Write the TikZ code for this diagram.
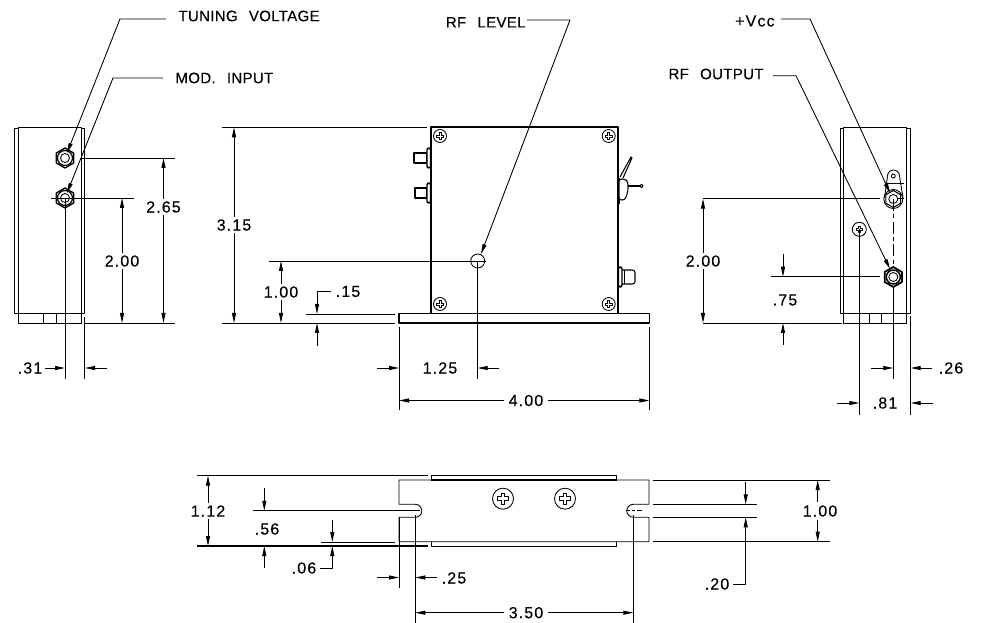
\documentclass[tikz,border=0pt]{standalone}
\usepackage{fontspec}
\usetikzlibrary{arrows.meta}
\newfontfamily\capfont[LetterSpace=2,WordSpace=2.5,FakeBold=0.25]{Liberation Sans}
\newfontfamily\digfont[LetterSpace=7,FakeBold=0.25]{Liberation Sans}
\tikzset{
	>={Triangle[length=7.5pt,width=3pt]},
	thinline/.style={line width=0.65pt},
	body/.style={line width=1.4pt},
	centerline/.style={line width=0.7pt,dash pattern=on 9pt off 2.5pt on 3pt off 2.5pt},
	dimtext/.style={font=\fontsize{12pt}{13pt}\digfont,inner sep=1.5pt},
	captext/.style={font=\fontsize{11.3pt}{12pt}\capfont,inner sep=9pt},
}
\begin{document}
\begin{tikzpicture}[x=0.75pt,y=-0.75pt,thinline,line join=round]
\useasboundingbox (0,0) rectangle (981,623);

% left view
\draw (14,128) rectangle (18.5,313);
\draw (81,128) rectangle (84.5,313);
\draw (18.5,127) rectangle (81,313);
\draw (18.5,313) rectangle (81,323);
\draw (43.5,313) -- (43.5,323);
\draw (56,313) -- (56,323);
\foreach \x/\y in {65/158, 65/198} {
	\draw[line width=1pt,shift={(\x,\y)}] (30:10) -- (90:10) -- (150:10) -- (210:10) -- (270:10) -- (330:10) -- cycle;
	\draw[line width=0.9pt] (\x,\y) circle[radius=7.5];
	\draw (\x,\y) circle[radius=4.5];
}
\draw (82,158) -- (175,158);
\draw (51,198) -- (134,198);
\draw (85,323) -- (175,323);
\draw (65,198) -- (65,379);
\draw (84.5,317) -- (84.5,379);

\node[dimtext] (dimA) at (163.5,207) {2.65};
\coordinate (dimAtop) at (163.5,158);
\coordinate (dimAbot) at (163.5,323);
\draw[->] (dimA) -- (dimAtop);
\draw[->] (dimA) -- (dimAbot);
\node[dimtext] (dimB) at (122,261) {2.00};
\coordinate (dimBtop) at (122,198);
\coordinate (dimBbot) at (122,323);
\draw[->] (dimB) -- (dimBtop);
\draw[->] (dimB) -- (dimBbot);
\node[dimtext] (dimC) at (30,368) {.31};
\coordinate (dimCa) at (65,368);
\coordinate (dimCb) at (85,368);
\coordinate (dimCc) at (107,368);
\draw[->] (dimC) -- (dimCa);
\draw[->] (dimCc) -- (dimCb);

\node[captext,anchor=west] (lblTuning) at (166,16) {TUNING VOLTAGE};
\coordinate (tuningBend) at (120,19);
\coordinate (tuningTip) at (67,153);
\draw[->] (lblTuning.west |- tuningBend) -- (tuningBend) -- (tuningTip);
\node[captext,anchor=west] (lblMod) at (163,78) {MOD. INPUT};
\coordinate (modBend) at (113,78);
\coordinate (modTip) at (67,193);
\draw[->] (lblMod.west) -- (modBend) -- (modTip);

% front view
\draw[body] (430.7,313.5) -- (430.7,127.3) -- (617.7,127.3) -- (617.7,313.5);
\draw (430.7,313.7) -- (617.7,313.7);
\draw[line width=0.9pt] (399,313.7) rectangle (649.3,323);
\foreach \x/\y in {440/136, 608.7/136, 440/304, 608.7/304} {
	\draw (\x,\y) circle[radius=6.5];
	\draw[shift={(\x,\y)},scale=0.42] (-2.5,-8) -- (2.5,-8) -- (2.5,-2.5) -- (8,-2.5) -- (8,2.5) -- (2.5,2.5) -- (2.5,8) -- (-2.5,8) -- (-2.5,2.5) -- (-8,2.5) -- (-8,-2.5) -- (-2.5,-2.5) -- cycle;
}
\foreach \x/\y in {414/158, 415/193} {
	\draw[line width=0.8pt] (\x,\y-5) rectangle (427,\y+5);
	\draw[line width=1.1pt,fill=white,rounded corners=1.5pt] (427,\y-10) rectangle (430.7,\y+10);
}
% toggle switch
\draw[line width=1.1pt] (619,178) -- (619,204);
\draw[fill=white,line width=0.8pt,rounded corners=2pt] (619,179) -- (625,179) -- (628,182) -- (628,191) -- (625,200) -- (619,200) -- cycle;
\draw[line width=0.8pt] (620,177) -- (631,157) -- (632,158) -- (623,178);
\draw[line width=0.8pt] (628,186) -- (640,186);
\draw[line width=0.8pt] (641.5,186) circle[radius=1.6];
% output connector
\draw[line width=1.1pt,rounded corners=1.5pt] (618.5,267) rectangle (622,287);
\draw[line width=0.8pt,rounded corners=2pt] (622,270) -- (635,270) -- (635,284) -- (622,284);
\draw (624.5,270) -- (624.5,284);

\draw (477.7,261) circle[radius=7];
\draw (222,127.3) -- (427,127.3);
\draw (222,323) -- (395,323);
\draw (269,261) -- (486,261);
\draw (306,314) -- (395,314);
\draw (477.7,261) -- (477.7,379);
\draw (399,327) -- (399,410);
\draw (649.3,327) -- (649.3,410);

\node[dimtext] (dimD) at (234,225) {3.15};
\coordinate (dimDtop) at (234,127.3);
\coordinate (dimDbot) at (234,323);
\draw[->] (dimD) -- (dimDtop);
\draw[->] (dimD) -- (dimDbot);
\node[dimtext] (dimE) at (281,292) {1.00};
\coordinate (dimEtop) at (281,261);
\coordinate (dimEbot) at (281,323);
\draw[->] (dimE) -- (dimEtop);
\draw[->] (dimE) -- (dimEbot);
\node[dimtext,inner sep=3pt] (dimF) at (348,291.5) {.15};
\coordinate (dimFbend) at (317,291.5);
\coordinate (dimFtip) at (317,314);
\coordinate (dimFlow) at (317,346);
\coordinate (dimFup) at (317,323);
\draw[->] (dimF) -- (dimFbend) -- (dimFtip);
\draw[->] (dimFlow) -- (dimFup);
\node[dimtext] (dimG) at (440,368) {1.25};
\coordinate (dimGa) at (377,368);
\coordinate (dimGb) at (399,368);
\coordinate (dimGc) at (499,368);
\coordinate (dimGd) at (477.7,368);
\draw[->] (dimGa) -- (dimGb);
\draw[->] (dimGc) -- (dimGd);
\node[dimtext,inner sep=3pt] (dimH) at (526,400.5) {4.00};
\coordinate (dimHa) at (399,400.5);
\coordinate (dimHb) at (649.3,400.5);
\draw[->] (dimH) -- (dimHa);
\draw[->] (dimH) -- (dimHb);

\node[captext,anchor=east,inner sep=0.75pt] (lblLevel) at (527,22.3) {RF LEVEL};
\coordinate (levelBend) at (570,20);
\coordinate (levelTip) at (481,254);
\draw[->] (lblLevel.east |- levelBend) -- (levelBend) -- (levelTip);

% right view
\draw (840.3,128) rectangle (843.7,313);
\draw (906.7,128) rectangle (910.7,313);
\draw (843.7,127) rectangle (906.7,313);
\draw (843.7,313) rectangle (906.7,323);
\draw (869,313) -- (869,323);
\draw (881,313) -- (881,323);
\draw (893.3,176) circle[radius=2];
\draw (887.5,176) arc[start angle=180,end angle=360,radius=6] -- (903,198) (887.5,176) -- (884.5,198);
\draw (887,183) -- (904,183);
\draw (893.3,199) circle[radius=9.5];
\draw[line width=0.8pt,shift={(893.3,199)}] (30:8.5) -- (90:8.5) -- (150:8.5) -- (210:8.5) -- (270:8.5) -- (330:8.5) -- cycle;
\draw (893.3,199) circle[radius=4.5];
\draw[line width=1.3pt,shift={(893.3,277)}] (30:10) -- (90:10) -- (150:10) -- (210:10) -- (270:10) -- (330:10) -- cycle;
\draw[line width=1.1pt] (893.3,277) circle[radius=7];
\draw (893.3,277) circle[radius=4.5];
\draw (859.3,229.3) circle[radius=7];
\draw[shift={(859.3,229.3)},scale=0.42] (-2.5,-8) -- (2.5,-8) -- (2.5,-2.5) -- (8,-2.5) -- (8,2.5) -- (2.5,2.5) -- (2.5,8) -- (-2.5,8) -- (-2.5,2.5) -- (-8,2.5) -- (-8,-2.5) -- (-2.5,-2.5) -- cycle;
\draw[centerline] (893.3,199) -- (893.3,266);
\draw (893.3,287) -- (893.3,379);
\draw (859.3,229.3) -- (859.3,415);
\draw (910.7,316) -- (910.7,415);
\draw (703,198.7) -- (880,198.7);
\draw (898,198.7) -- (904,198.7);
\draw (703,323) -- (842,323);
\draw (771,276.7) -- (880,276.7);

\node[dimtext] (dimJ) at (703,261) {2.00};
\coordinate (dimJtop) at (703,198.7);
\coordinate (dimJbot) at (703,323);
\draw[->] (dimJ) -- (dimJtop);
\draw[->] (dimJ) -- (dimJbot);
\node[dimtext] (dimK) at (785,300) {.75};
\coordinate (dimKa) at (783,254);
\coordinate (dimKb) at (783,276.7);
\coordinate (dimKc) at (783,345);
\coordinate (dimKd) at (783,323);
\draw[->] (dimKa) -- (dimKb);
\draw[->] (dimKc) -- (dimKd);
\node[dimtext] (dimL) at (951,368) {.26};
\coordinate (dimLa) at (871,368);
\coordinate (dimLb) at (893.3,368);
\coordinate (dimLc) at (932,368);
\coordinate (dimLd) at (910.7,368);
\draw[->] (dimLa) -- (dimLb);
\draw[->] (dimLc) -- (dimLd);
\node[dimtext] (dimM) at (885,403) {.81};
\coordinate (dimMa) at (837,403);
\coordinate (dimMb) at (859.3,403);
\coordinate (dimMc) at (933,403);
\coordinate (dimMd) at (910.7,403);
\draw[->] (dimMa) -- (dimMb);
\draw[->] (dimMc) -- (dimMd);

\node[dimtext,anchor=east,inner sep=4.5pt] (lblVcc) at (781,21) {+Vcc};
\coordinate (vccBend) at (810,19);
\coordinate (vccTip) at (890,193);
\draw[->] (lblVcc.east |- vccBend) -- (vccBend) -- (vccTip);
\node[captext,anchor=east,inner sep=6.75pt] (lblOutput) at (773,74) {RF OUTPUT};
\coordinate (outputBend) at (796,75.7);
\coordinate (outputTip) at (890,269);
\draw[->] (lblOutput.east |- outputBend) -- (outputBend) -- (outputTip);

% bottom view
\draw (399,480) -- (399,504.3) -- (415.3,504.3) arc[start angle=-90,end angle=90,radius=6.5] -- (399,517.3) -- (399,541.7) -- (649,541.7) -- (649,517.3) -- (633.3,517.3) arc[start angle=90,end angle=270,radius=6.5] -- (649,504.3) -- (649,480) -- cycle;
\draw (431,480) -- (431,475.7) -- (616.7,475.7) -- (616.7,480);
\draw (431,541.7) -- (431,546) -- (616.7,546) -- (616.7,541.7);
\draw[line width=1.1pt] (431,480) -- (616.7,480);
\foreach \x in {503, 565} {
	\draw (\x,498.7) circle[radius=10.5];
	\draw[shift={(\x,498.7)},scale=0.72] (-2.5,-8) -- (2.5,-8) -- (2.5,-2.5) -- (8,-2.5) -- (8,2.5) -- (2.5,2.5) -- (2.5,8) -- (-2.5,8) -- (-2.5,2.5) -- (-8,2.5) -- (-8,-2.5) -- (-2.5,-2.5) -- cycle;
}
\draw (197,475.7) -- (428,475.7);
\draw[line width=0.9pt] (197,546) -- (428,546);
\draw (253,510.8) -- (420,510.8);
\draw (321,542) -- (395,542);
\draw (399,517.3) -- (399,588);
\draw (415.3,515) -- (415.3,623);
\draw (633.3,515) -- (633.3,623);
\draw (626,510.8) -- (630,510.8) (632,510.8) -- (635,510.8) (637,510.8) -- (642,510.8);
\draw (653,480) -- (830,480);
\draw (653,504.3) -- (757,504.3);
\draw (653,517.3) -- (757,517.3);
\draw (653,541.7) -- (830,541.7);

\node[dimtext] (dimN) at (208,511) {1.12};
\coordinate (dimNtop) at (208,475.7);
\coordinate (dimNbot) at (208,546);
\draw[->] (dimN) -- (dimNtop);
\draw[->] (dimN) -- (dimNbot);
\node[dimtext] (dimO) at (267,529) {.56};
\coordinate (dimOa) at (264.3,488);
\coordinate (dimOb) at (264.3,510.8);
\coordinate (dimOc) at (264.3,568);
\coordinate (dimOd) at (264.3,546);
\draw[->] (dimOa) -- (dimOb);
\draw[->] (dimOc) -- (dimOd);
\node[dimtext,inner sep=2.5pt] (dimP) at (304,568) {.06};
\coordinate (dimPbend) at (332.3,568);
\coordinate (dimPtip) at (332.3,546);
\coordinate (dimPa) at (332.3,520);
\coordinate (dimPb) at (332.3,542);
\draw[->] (dimP) -- (dimPbend) -- (dimPtip);
\draw[->] (dimPa) -- (dimPb);
\node[dimtext] (dimQ) at (454,578) {.25};
\coordinate (dimQa) at (377,577.5);
\coordinate (dimQb) at (399,577.5);
\coordinate (dimQc) at (437,577.5);
\coordinate (dimQd) at (415.3,577.5);
\draw[->] (dimQa) -- (dimQb);
\draw[->] (dimQc) -- (dimQd);
\node[dimtext,inner sep=3pt] (dimR) at (526,612.7) {3.50};
\coordinate (dimRa) at (415.3,612.7);
\coordinate (dimRb) at (633.3,612.7);
\draw[->] (dimR) -- (dimRa);
\draw[->] (dimR) -- (dimRb);
\node[dimtext] (dimS) at (820,511) {1.00};
\coordinate (dimStop) at (817.7,480);
\coordinate (dimSbot) at (817.7,541.7);
\coordinate (dimSa) at (817.7,502);
\coordinate (dimSb) at (817.7,520);
\draw[->] (dimSa) -- (dimStop);
\draw[->] (dimSb) -- (dimSbot);
\node[dimtext,inner sep=2.5pt] (dimT) at (717,584) {.20};
\coordinate (dimTbend) at (745.7,584);
\coordinate (dimTtip) at (745.7,517.3);
\coordinate (dimTa) at (745.7,482);
\coordinate (dimTb) at (745.7,504.3);
\draw[->] (dimT) -- (dimTbend) -- (dimTtip);
\draw[->] (dimTa) -- (dimTb);
\end{tikzpicture}
\end{document}
